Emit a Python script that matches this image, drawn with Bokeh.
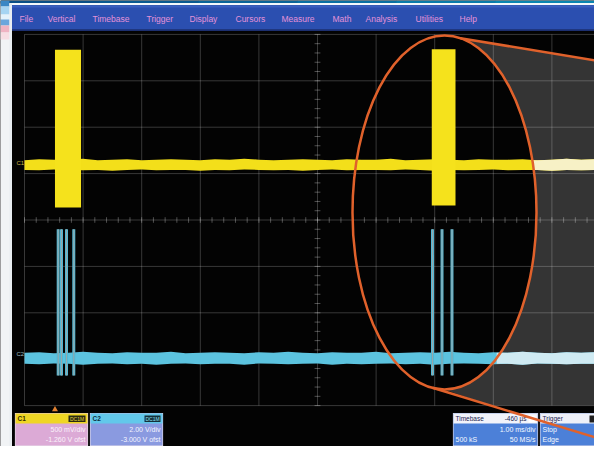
import math
from bokeh.plotting import figure
from bokeh.models import Range1d
from bokeh.embed import file_html
from bokeh.resources import INLINE
from bokeh.core.properties import value

# ---------------- data (scope divisions: x = time div, y = vertical div) ----------------
grid_x_divs = [0, 1, 2, 3, 4, 5, 6, 7, 8, 9, 10]
grid_y_divs = [-4, -3, -2, -1, 0, 1, 2, 3, 4]

sample_t = [0.0, 0.25, 0.5, 0.75, 1.0, 1.25, 1.5, 1.75, 2.0, 2.25,
            2.5, 2.75, 3.0, 3.25, 3.5, 3.75, 4.0, 4.25, 4.5, 4.75,
            5.0, 5.25, 5.5, 5.75, 6.0, 6.25, 6.5, 6.75, 7.0, 7.25,
            7.5, 7.75, 8.0, 8.25, 8.5, 8.75, 9.0, 9.25, 9.5, 9.75]

# Channel 1 (yellow) noise band edges
ch1_hi = [1.29, 1.31, 1.30, 1.30, 1.32, 1.29, 1.30, 1.31, 1.29, 1.30,
          1.31, 1.30, 1.29, 1.31, 1.30, 1.32, 1.30, 1.29, 1.30, 1.31,
          1.30, 1.29, 1.31, 1.30, 1.30, 1.32, 1.29, 1.30, 1.31, 1.30,
          1.29, 1.31, 1.30, 1.30, 1.31, 1.29, 1.30, 1.32, 1.30, 1.31]
ch1_lo = [1.08, 1.07, 1.09, 1.08, 1.07, 1.08, 1.06, 1.08, 1.09, 1.07,
          1.08, 1.08, 1.06, 1.08, 1.07, 1.09, 1.08, 1.07, 1.08, 1.06,
          1.08, 1.09, 1.07, 1.08, 1.08, 1.07, 1.09, 1.08, 1.06, 1.08,
          1.07, 1.08, 1.09, 1.07, 1.08, 1.08, 1.06, 1.08, 1.07, 1.08]
# Channel 1 RF bursts
ch1_burst_start = [0.52, 6.95]
ch1_burst_end = [0.965, 7.355]
ch1_burst_top = [3.67, 3.68]
ch1_burst_bottom = [0.27, 0.31]

# Channel 2 (cyan) noise band edges
ch2_hi = [-2.86, -2.85, -2.87, -2.86, -2.84, -2.86, -2.87, -2.85, -2.86, -2.86,
          -2.84, -2.87, -2.86, -2.85, -2.86, -2.87, -2.85, -2.86, -2.84, -2.86,
          -2.87, -2.85, -2.86, -2.86, -2.84, -2.87, -2.86, -2.85, -2.86, -2.84,
          -2.86, -2.87, -2.85, -2.86, -2.84, -2.86, -2.87, -2.85, -2.86, -2.85]
ch2_lo = [-3.10, -3.11, -3.09, -3.10, -3.12, -3.10, -3.09, -3.11, -3.10, -3.12,
          -3.10, -3.09, -3.11, -3.10, -3.10, -3.12, -3.09, -3.10, -3.11, -3.10,
          -3.09, -3.12, -3.10, -3.11, -3.10, -3.09, -3.11, -3.10, -3.12, -3.10,
          -3.09, -3.10, -3.11, -3.10, -3.12, -3.09, -3.10, -3.11, -3.10, -3.10]
# Channel 2 digital spikes
ch2_spike_t = [0.575, 0.631, 0.717, 0.841, 6.962, 7.125, 7.295]
ch2_spike_top = [-0.20, -0.20, -0.20, -0.20, -0.20, -0.20, -0.20]
ch2_spike_bottom = [-3.35, -3.35, -3.35, -3.35, -3.35, -3.35, -3.35]

menu_items = ["File", "Vertical", "Timebase", "Trigger", "Display", "Cursors",
              "Measure", "Math", "Analysis", "Utilities", "Help"]
c1_desc = ["500 mV/div", "-1.260 V ofst"]
c2_desc = ["2.00 V/div", "-3.000 V ofst"]
tb_desc = ["Timebase", "-460 µs", "1.00 ms/div", "500 kS", "50 MS/s"]
trig_desc = ["Trigger", "Stop", "Edge"]

# ---------------- layout helpers (image pixel -> scope divisions) ----------------
PX0, PXD = 32.0, 58.6
PY0, PYD = 227.5, 46.4


def X(px):
    return (px - PX0) / PXD


def Y(py):
    return (PY0 - py) / PYD


FONT = value("Liberation Sans")

p = figure(width=594, height=446,
           x_range=Range1d(X(8), X(602)), y_range=Range1d(Y(454), Y(8)),
           output_backend="svg", toolbar_location=None,
           x_axis_type=None, y_axis_type=None, min_border=0)
p.background_fill_color = "#030303"
p.border_fill_color = "#030303"
p.outline_line_color = None


def rect(l, t, r, b, color, **kw):
    p.quad(left=[X(l)], right=[X(r)], top=[Y(t)], bottom=[Y(b)],
           fill_color=color, line_color=None, **kw)


def label(px, py, txt, color, size="7px", align="left", style="normal"):
    p.text(x=[X(px)], y=[Y(py)], text=[txt], text_color=color,
           text_font=FONT, text_font_size=size, text_align=align,
           text_baseline="middle", text_font_style=style)


# ---------------- frame / background decoration ----------------
top_cols = ["#0b4f86", "#0b5a90", "#0b6598", "#0a70a2", "#0a7caa", "#0a86b0"]
seg = (602 - 8) / len(top_cols)
for i, c in enumerate(top_cols):
    rect(8 + i * seg, 8, 8 + (i + 1) * seg + 0.5, 11, c)
rect(8, 11, 19.5, 454, "#f1f3f5")
rect(8, 8, 17, 14, "#3a86c4")
rect(8, 14, 17, 22, "#a6d4f2")
rect(8, 22, 17, 27, "#e4f2fb")
rect(8, 27, 17, 33, "#6aa6dc")
rect(8, 33, 17, 40, "#efb3c2")
rect(8, 40, 17, 47, "#f7dde3")
rect(17, 10.5, 602, 12.8, "#f4f8fb")
rect(17, 10.5, 19.5, 454, "#e9eef2")
rect(19.5, 12.8, 602, 38, "#2b4fb0")
rect(19.5, 12.8, 602, 15, "#3a5fc0")
rect(19.5, 36.8, 602, 38.5, "#1c2f70")

menu_px = [27, 55, 100, 154, 197, 243, 289, 340, 373, 423, 467]
p.text(x=[X(v) for v in menu_px], y=[Y(26)] * len(menu_items), text=menu_items,
       text_color="#e492d8", text_font=FONT, text_font_size="8.5px",
       text_align="left", text_baseline="middle")

# ---------------- magnifier beam (gray) ----------------
cx, cy, ea, eb = 452.0, 220.0, 92.0, 177.0
arc = []
for d in range(-80, 91, 5):
    t = math.radians(d)
    arc.append((cx + ea * math.cos(t), cy + eb * math.sin(t)))
top_start = arc[0]
slope_top, slope_bot = 0.165, 0.305
top_end = (620.0, top_start[1] + slope_top * (620.0 - top_start[0]))
bot_start = (440.0, 395.3)
bot_end = (620.0, bot_start[1] + slope_bot * (620.0 - bot_start[0]))
x_at_grid_bottom = bot_start[0] + (413.0 - bot_start[1]) / slope_bot
poly = arc + [(x_at_grid_bottom, 413.0), (620.0, 413.0), top_end]
p.patch(x=[X(a) for a, _ in poly], y=[Y(b) for _, b in poly],
        fill_color="#343434", line_color=None)

# ---------------- graticule ----------------
p.multi_line(xs=[[d, d] for d in grid_x_divs], ys=[[grid_y_divs[0], grid_y_divs[-1]]] * len(grid_x_divs),
             line_color="white", line_alpha=0.21, line_width=1)
p.multi_line(xs=[[grid_x_divs[0], grid_x_divs[-1]]] * len(grid_y_divs), ys=[[d, d] for d in grid_y_divs],
             line_color="white", line_alpha=0.21, line_width=1)
xt = [k * 0.2 for k in range(0, 51)]
p.segment(x0=xt, x1=xt, y0=[-0.06] * len(xt), y1=[0.06] * len(xt),
          line_color="white", line_alpha=0.3, line_width=1)
yt = [-4 + k * 0.2 for k in range(0, 41)]
p.segment(x0=[4.95] * len(yt), x1=[5.05] * len(yt), y0=yt, y1=yt,
          line_color="white", line_alpha=0.3, line_width=1)

# ---------------- traces ----------------
p.varea(x=sample_t, y1=ch1_lo, y2=ch1_hi, fill_color="#f3df1a")
p.quad(left=ch1_burst_start, right=ch1_burst_end, top=ch1_burst_top,
       bottom=ch1_burst_bottom, fill_color="#f5e21c", line_color=None)

p.varea(x=sample_t, y1=ch2_lo, y2=ch2_hi, fill_color="#5cc3df")
p.segment(x0=ch2_spike_t, x1=ch2_spike_t, y0=ch2_spike_bottom, y1=ch2_spike_top,
          line_color="#52b8d4", line_width=3)
p.segment(x0=ch2_spike_t, x1=ch2_spike_t, y0=ch2_spike_bottom, y1=ch2_spike_top,
          line_color="#9aa8aa", line_width=1)


def arc_x(py):
    r = (py - cy) / eb
    return cx + ea * math.sqrt(max(0.0, 1 - r * r))


def tail(t, lo, hi):
    mid_py = PY0 - (sum(lo) + sum(hi)) / (2 * len(lo)) * PYD
    t0 = X(arc_x(mid_py))
    xs, l, h = [], [], []
    for ti, a, b in zip(t, lo, hi):
        if ti > t0:
            if not xs:
                xs.append(t0); l.append(a); h.append(b)
            xs.append(ti); l.append(a); h.append(b)
    return xs, l, h


tx, tl, th = tail(sample_t, ch1_lo, ch1_hi)
p.varea(x=tx, y1=tl, y2=th, fill_color="#f7f1c6")
tx, tl, th = tail(sample_t, ch2_lo, ch2_hi)
p.varea(x=tx, y1=tl, y2=th, fill_color="#cfeaf2")

# channel markers and trigger marker
label(24, 170, "C1", "#cdb94a", size="6px")
label(24, 361, "C2", "#9fbcc4", size="6px")
p.scatter(x=[ch1_burst_start[0]], y=[Y(417)], marker="triangle", size=6,
          fill_color="#e08030", line_color=None)

# ---------------- descriptor boxes ----------------
def box(l, r, head, body):
    rect(l - 0.6, 420.4, r + 0.6, 453.6, "#e8e0ea")
    rect(l, 421, r, 453, body)
    rect(l, 421, r, 431, head)


box(23, 95, "#efd624", "#dcaad6")
label(25, 426, "C1", "#3a3000", size="6.5px", style="bold")
rect(76, 423, 93, 429.5, "#2a2a12")
label(84.5, 426.3, "DC1M", "#e8d840", size="5px", align="center")
label(93, 437, c1_desc[0], "#fbf2fb", align="right")
label(93, 447, c1_desc[1], "#fbf2fb", align="right")

box(98, 170, "#62c8ea", "#8a9ae0")
label(100, 426, "C2", "#0d3040", size="6.5px", style="bold")
rect(152, 423, 168, 429.5, "#14303a")
label(160, 426.3, "DC1M", "#8fe0f5", size="5px", align="center")
label(168, 437, c2_desc[0], "#f4f4ff", align="right")
label(168, 447, c2_desc[1], "#f4f4ff", align="right")

box(461, 545, "#f2f3fa", "#4c80d8")
label(463, 426, tb_desc[0], "#1a2450", size="6.5px")
label(534, 426, tb_desc[1], "#1a2450", size="6.5px", align="right")
rect(536, 423, 543, 430, "#ffffff")
label(543, 437, tb_desc[2], "#f4f8ff", align="right")
label(463, 447, tb_desc[3], "#f4f8ff")
label(543, 447, tb_desc[4], "#f4f8ff", align="right")

box(548, 606, "#eef0f8", "#4c80d8")
label(550, 426, trig_desc[0], "#1a2450", size="6.5px")
rect(597, 423, 602, 430, "#202020")
label(550, 437, trig_desc[1], "#f4f8ff")
label(550, 447, trig_desc[2], "#f4f8ff")

# ---------------- magnifier outline ----------------
ORANGE = "#e0612b"
p.ellipse(x=[X(cx)], y=[Y(cy)], width=[2 * ea / PXD], height=[2 * eb / PYD],
          fill_color=None, line_color=ORANGE, line_width=2.5)
p.segment(x0=[X(top_start[0]), X(bot_start[0])], y0=[Y(top_start[1]), Y(bot_start[1])],
          x1=[X(top_end[0]), X(bot_end[0])], y1=[Y(top_end[1]), Y(bot_end[1])],
          line_color=ORANGE, line_width=2.5)

open("out.html", "w").write(file_html(p, INLINE))
